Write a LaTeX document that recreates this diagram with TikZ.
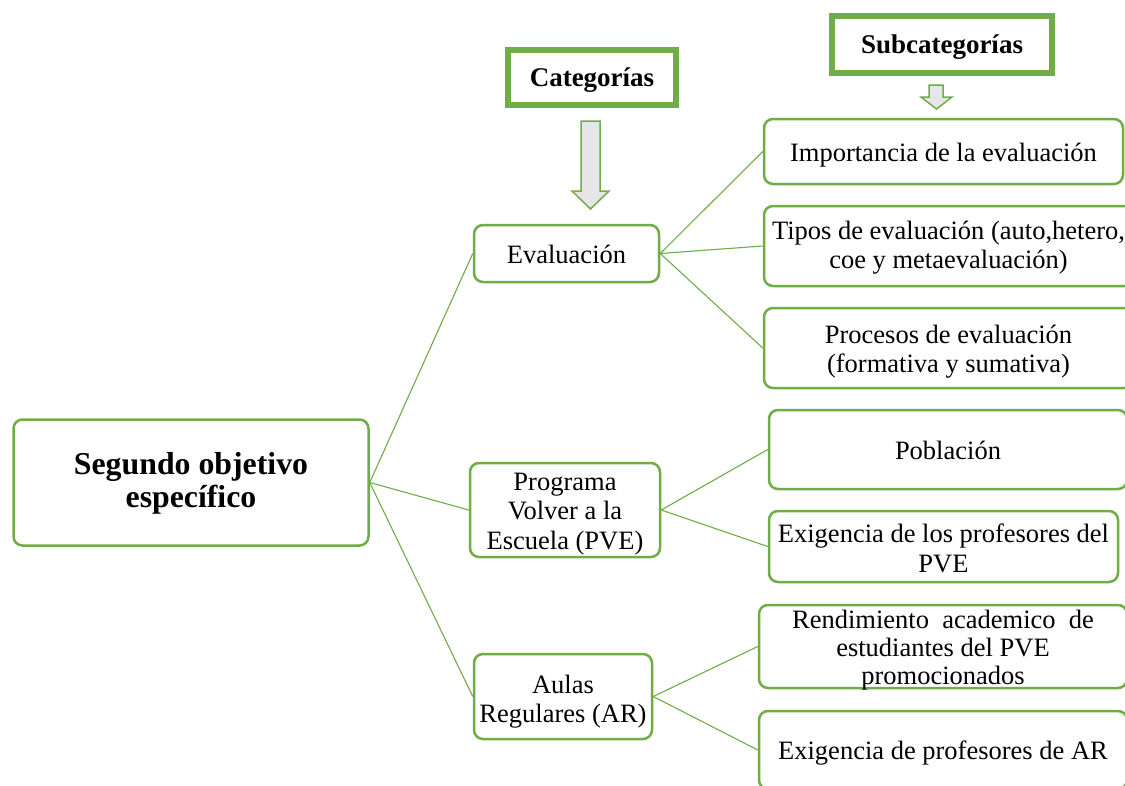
\documentclass[tikz,border=0pt]{standalone}
\usepackage{fontspec}
\setmainfont{Liberation Serif}
\definecolor{grn}{HTML}{70AD47}
\definecolor{arrfill}{HTML}{E7E6E6}
\begin{document}
\begin{tikzpicture}[x=1pt,y=-1pt,
  box/.style={draw=grn, line width=2.5pt, rounded corners=9pt, fill=white, inner sep=0pt},
  headbox/.style={draw=grn, line width=6pt, fill=white, inner sep=0pt},
  txt/.style={inner sep=0pt, align=center, font=\fontsize{26.5}{29.5}\selectfont},
  headtxt/.style={inner sep=0pt, align=center, font=\fontsize{27}{30}\selectfont\bfseries},
  conn/.style={draw=grn, line width=1.1pt},
  blockarrow/.style={draw=grn, line width=1.5pt, fill=arrfill, line join=miter}
]
\useasboundingbox (0,0) rectangle (1125,785);
\begin{scope}
\clip (0,0) rectangle (1125,785);
\fill[white] (0,0) rectangle (1125,785);

% boxes
\node[box, minimum width=355pt, minimum height=126pt] (seg) at (191,482.5) {};
\node[box, minimum width=185pt, minimum height=57pt] (eva) at (566.5,253.5) {};
\node[box, minimum width=190pt, minimum height=94pt] (pve) at (565,510) {};
\node[box, minimum width=178pt, minimum height=85pt] (aul) at (563,696.5) {};
\node[box, minimum width=359pt, minimum height=65pt] (imp) at (943.5,151.5) {};
\node[box, minimum width=369pt, minimum height=80pt] (tip) at (948.5,246) {};
\node[box, minimum width=369pt, minimum height=80pt] (pro) at (948.5,348) {};
\node[box, minimum width=358pt, minimum height=79pt] (pob) at (948,449.5) {};
\node[box, minimum width=349pt, minimum height=71pt] (exp) at (943.5,546.5) {};
\node[box, minimum width=368pt, minimum height=83pt] (ren) at (943,646.5) {};
\node[box, minimum width=368pt, minimum height=78pt] (exa) at (943,750) {};
\node[headbox, minimum width=168pt, minimum height=55pt] (cat) at (592,77.5) {};
\node[headbox, minimum width=220pt, minimum height=57pt] (sub) at (942,44.5) {};

% texts
\node[txt, font=\fontsize{31.8}{33}\selectfont\bfseries] (seg-t) at (191,483) {Segundo objetivo\\específico};
\node[txt] (eva-t) at (566.5,254) {Evaluación};
\node[txt] (pve-t) at (565,514) {Programa\\Volver a la\\Escuela (PVE)};
\node[txt] (aul-t) at (563,701.5) {Aulas\\Regulares (AR)};
\node[txt] (imp-t) at (943.5,155) {Importancia de la evaluación};
\node[txt] (tip-t) at (948.5,247.5) {Tipos de evaluación (auto,hetero,\\coe y metaevaluación)};
\node[txt] (pro-t) at (948.5,351.5) {Procesos de evaluación\\(formativa y sumativa)};
\node[txt] (pob-t) at (948,450) {Población};
\node[txt] (exp-t) at (943.5,548.5) {Exigencia de los profesores del\\PVE};
\node[txt, font=\fontsize{26.5}{28}\selectfont] (ren-t) at (943,650) {Rendimiento\ \ academico\ \ de\\estudiantes del PVE\\promocionados};
\node[txt] (exa-t) at (943,753) {Exigencia de profesores de AR};
\node[headtxt] (cat-t) at (592,80.5) {Categorías};
\node[headtxt] (sub-t) at (942,47.5) {Subcategorías};

% connectors
\draw[conn] (seg.east) -- (eva.west);
\draw[conn] (seg.east) -- (pve.west);
\draw[conn] (seg.east) -- (aul.west);
\draw[conn] (eva.east) -- (imp.west);
\draw[conn] (eva.east) -- (tip.west);
\draw[conn] (eva.east) -- (pro.west);
\draw[conn] (pve.east) -- (pob.west);
\draw[conn] (pve.east) -- (exp.west);
\draw[conn] (aul.east) -- (ren.west);
\draw[conn] (aul.east) -- (exa.west);

% block arrows
\draw[blockarrow] (581,121) -- (600,121) -- (600,191) -- (609,191) -- (590.5,209) -- (572,191) -- (581,191) -- cycle;
\draw[blockarrow] (929,85) -- (943,85) -- (943,97) -- (952,97) -- (936.5,109) -- (921,97) -- (929,97) -- cycle;
\end{scope}
\end{tikzpicture}
\end{document}
